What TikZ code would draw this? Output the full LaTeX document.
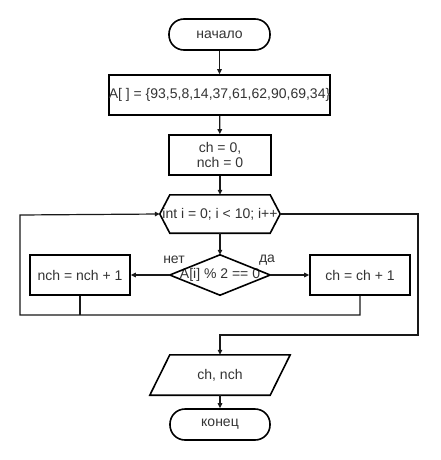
\documentclass[tikz,border=0pt]{standalone}
\usepackage{fontspec}
\setmainfont{Liberation Sans}
\usetikzlibrary{arrows.meta}
\begin{document}
\begin{tikzpicture}[x=1pt,y=-1pt,
  txt/.style={font=\fontsize{14}{15.5}\selectfont, text=black!80},
  boxst/.style={txt, draw=black, line width=1.6pt, inner sep=0pt, align=center},
  term/.style={boxst, rounded corners=15pt, minimum width=101pt, minimum height=31pt},
  proc/.style={boxst, minimum height=40pt},
  ghost/.style={txt, inner sep=0pt, align=center},
  shapeline/.style={draw=black, line width=1.6pt, line join=miter},
  conn/.style={draw=black!90, line width=1.2pt, -{Triangle[length=5pt,width=4.5pt]}},
  plain/.style={draw=black!90, line width=1.2pt}]
\useasboundingbox (0,0) rectangle (440,460);

\node[term] (start) at (219.5,34.5) {начало};
\node[proc, minimum width=221pt] (arr) at (219.5,95) {A[ ] = \{93,5,8,14,37,61,62,90,69,34\}};
\node[proc, minimum width=102pt] (init) at (220,155) {ch = 0,\\nch = 0};
\node[ghost, minimum width=120pt, minimum height=38pt] (hex) at (220,214) {int i = 0; i < 10; i++};
\draw[shapeline] (hex.west) -- ([xshift=10pt]hex.north west) -- ([xshift=-10pt]hex.north east)
  -- (hex.east) -- ([xshift=-10pt]hex.south east) -- ([xshift=10pt]hex.south west) -- cycle;
\node[ghost, minimum width=100pt, minimum height=40pt] (cond) at (220,275) {A[i] \% 2 == 0};
\draw[shapeline] (cond.west) -- (cond.north) -- (cond.east) -- (cond.south) -- cycle;
\node[proc, minimum width=100pt] (nch) at (80,275) {nch = nch + 1};
\node[proc, minimum width=100pt] (ch) at (360,275) {ch = ch + 1};
\node[ghost, minimum width=120pt, minimum height=40pt] (out) at (220,375) {ch, nch};
\draw[shapeline] ([xshift=10pt]out.north west) -- ([xshift=10pt]out.north east)
  -- ([xshift=-10pt]out.south east) -- ([xshift=-10pt]out.south west) -- cycle;
\node[term, minimum width=100pt] (end) at (220,424.5) {конец};

\node[txt] (no) at (174,260) {нет};
\node[txt] (yes) at (267,260) {да};

\coordinate (jl) at (80,315);
\coordinate (jr) at (360,315);
\coordinate (ll) at (20,315);
\coordinate (lt) at (20,215);
\coordinate (rt) at (418,214);
\coordinate (rb) at (418,335);
\coordinate (rm) at (220,335);

\draw[conn] (start) -- (arr);
\draw[conn] (arr) -- (init);
\draw[conn] (init) -- (hex);
\draw[conn] (hex) -- (cond);
\draw[conn] (cond.west) -- (nch);
\draw[conn] (cond.east) -- (ch);
\draw[plain] (nch) -- (jl);
\draw[conn] (ch) -- (jr) -- (ll) -- (lt) -- (hex.west);
\draw[conn] (hex.east) -- (rt) -- (rb) -- (rm) -- (out);
\draw[conn] (out) -- (end);
\end{tikzpicture}
\end{document}
